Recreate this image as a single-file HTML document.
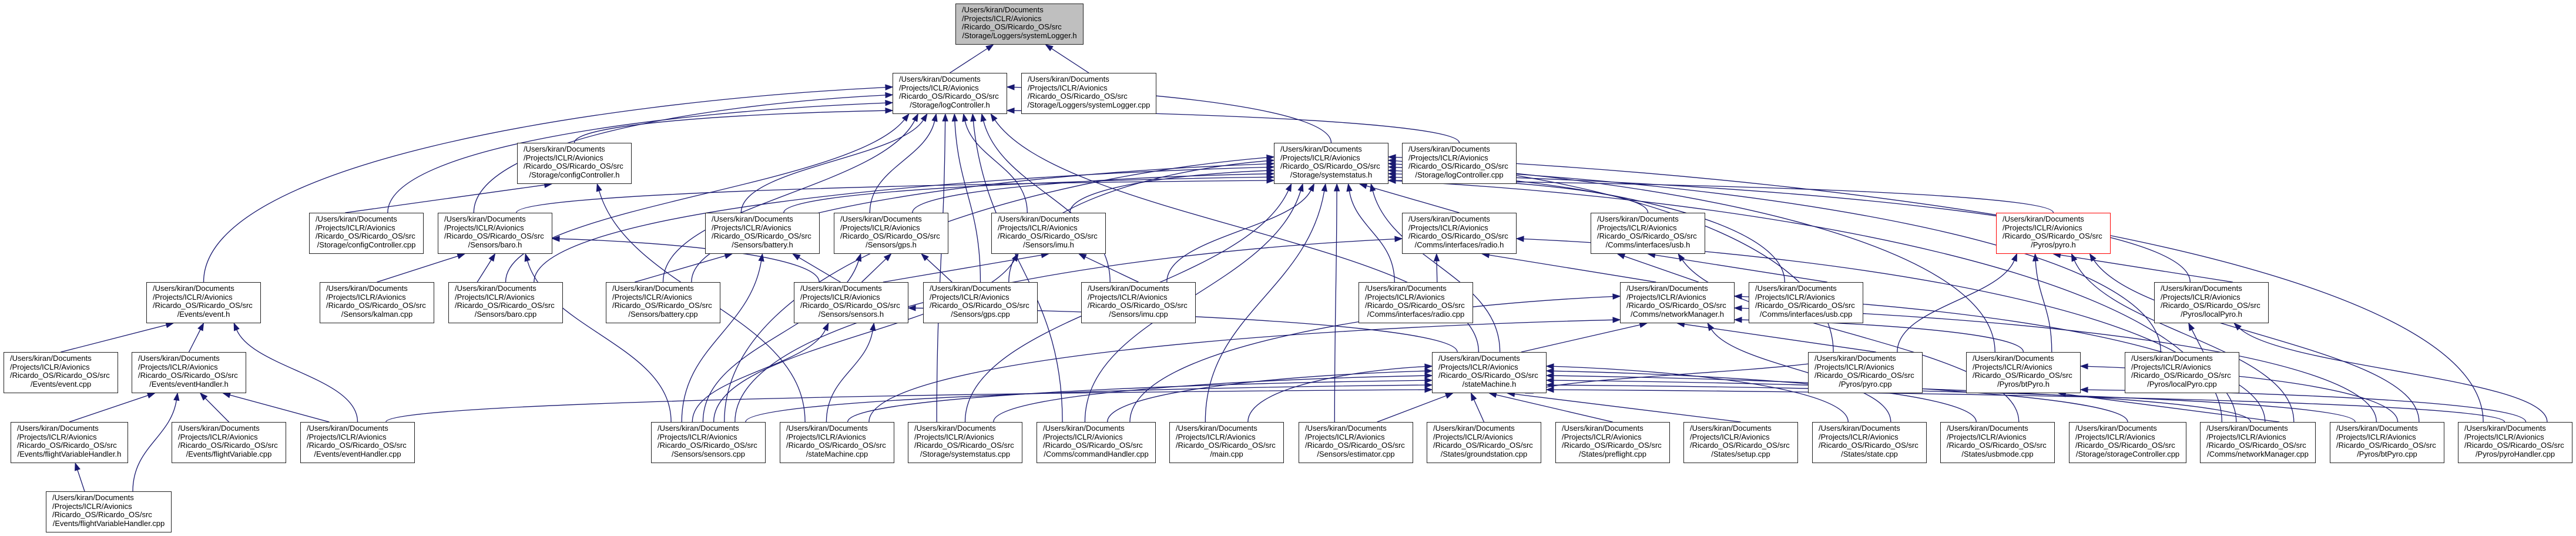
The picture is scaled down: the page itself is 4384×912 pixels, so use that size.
<!DOCTYPE html>
<html><head><meta charset="utf-8">
<style>
html,body{margin:0;padding:0}
body{width:4384px;height:912px;background:#fff;position:relative;overflow:hidden}
svg{position:absolute;left:0;top:0}
.n{position:absolute;width:195px;height:70px;box-sizing:border-box;border:1.3px solid #222;background:#fff;font:13px/14.7px "Liberation Sans",Arial,sans-serif;padding:3px 0 0 10px;white-space:nowrap;color:#000;z-index:2}
.n b{font-weight:normal;display:block;text-align:center;margin-left:-10px}
.r0{top:6px}.r1{top:124px}.r2{top:243px}.r3{top:362px}.r4{top:480px}.r5{top:599px}.r6{top:718px}.r7{top:836px}
.g{background:#bfbfbf}.red{border-color:#f00}
</style></head><body>
<svg id="sv" width="4384" height="912" xmlns="http://www.w3.org/2000/svg"></svg>

<div class="n r0 g" id="sl_h" style="left:1626px;width:218px">/Users/kiran/Documents<br>/Projects/ICLR/Avionics<br>/Ricardo_OS/Ricardo_OS/src<br><b>/Storage/Loggers/systemLogger.h</b></div>
<div class="n r1" id="lc_h" style="left:1519px">/Users/kiran/Documents<br>/Projects/ICLR/Avionics<br>/Ricardo_OS/Ricardo_OS/src<br><b>/Storage/logController.h</b></div>
<div class="n r1" id="sl_cpp" style="left:1738px;width:230px">/Users/kiran/Documents<br>/Projects/ICLR/Avionics<br>/Ricardo_OS/Ricardo_OS/src<br><b>/Storage/Loggers/systemLogger.cpp</b></div>
<div class="n r2" id="cc_h" style="left:880px">/Users/kiran/Documents<br>/Projects/ICLR/Avionics<br>/Ricardo_OS/Ricardo_OS/src<br><b>/Storage/configController.h</b></div>
<div class="n r2" id="ss_h" style="left:2168px">/Users/kiran/Documents<br>/Projects/ICLR/Avionics<br>/Ricardo_OS/Ricardo_OS/src<br><b>/Storage/systemstatus.h</b></div>
<div class="n r2" id="lc_cpp" style="left:2386px">/Users/kiran/Documents<br>/Projects/ICLR/Avionics<br>/Ricardo_OS/Ricardo_OS/src<br><b>/Storage/logController.cpp</b></div>
<div class="n r3" id="cc_cpp" style="left:526px">/Users/kiran/Documents<br>/Projects/ICLR/Avionics<br>/Ricardo_OS/Ricardo_OS/src<br><b>/Storage/configController.cpp</b></div>
<div class="n r3" id="baro_h" style="left:745px">/Users/kiran/Documents<br>/Projects/ICLR/Avionics<br>/Ricardo_OS/Ricardo_OS/src<br><b>/Sensors/baro.h</b></div>
<div class="n r3" id="bat_h" style="left:1200px">/Users/kiran/Documents<br>/Projects/ICLR/Avionics<br>/Ricardo_OS/Ricardo_OS/src<br><b>/Sensors/battery.h</b></div>
<div class="n r3" id="gps_h" style="left:1419px">/Users/kiran/Documents<br>/Projects/ICLR/Avionics<br>/Ricardo_OS/Ricardo_OS/src<br><b>/Sensors/gps.h</b></div>
<div class="n r3" id="imu_h" style="left:1687px">/Users/kiran/Documents<br>/Projects/ICLR/Avionics<br>/Ricardo_OS/Ricardo_OS/src<br><b>/Sensors/imu.h</b></div>
<div class="n r3" id="radio_h" style="left:2386px">/Users/kiran/Documents<br>/Projects/ICLR/Avionics<br>/Ricardo_OS/Ricardo_OS/src<br><b>/Comms/interfaces/radio.h</b></div>
<div class="n r3" id="usb_h" style="left:2707px">/Users/kiran/Documents<br>/Projects/ICLR/Avionics<br>/Ricardo_OS/Ricardo_OS/src<br><b>/Comms/interfaces/usb.h</b></div>
<div class="n r3 red" id="pyro_h" style="left:3397px">/Users/kiran/Documents<br>/Projects/ICLR/Avionics<br>/Ricardo_OS/Ricardo_OS/src<br><b>/Pyros/pyro.h</b></div>
<div class="n r4" id="event_h" style="left:249px">/Users/kiran/Documents<br>/Projects/ICLR/Avionics<br>/Ricardo_OS/Ricardo_OS/src<br><b>/Events/event.h</b></div>
<div class="n r4" id="kalman" style="left:544px">/Users/kiran/Documents<br>/Projects/ICLR/Avionics<br>/Ricardo_OS/Ricardo_OS/src<br><b>/Sensors/kalman.cpp</b></div>
<div class="n r4" id="baro_cpp" style="left:763px">/Users/kiran/Documents<br>/Projects/ICLR/Avionics<br>/Ricardo_OS/Ricardo_OS/src<br><b>/Sensors/baro.cpp</b></div>
<div class="n r4" id="bat_cpp" style="left:1031px">/Users/kiran/Documents<br>/Projects/ICLR/Avionics<br>/Ricardo_OS/Ricardo_OS/src<br><b>/Sensors/battery.cpp</b></div>
<div class="n r4" id="sens_h" style="left:1351px">/Users/kiran/Documents<br>/Projects/ICLR/Avionics<br>/Ricardo_OS/Ricardo_OS/src<br><b>/Sensors/sensors.h</b></div>
<div class="n r4" id="gps_cpp" style="left:1571px">/Users/kiran/Documents<br>/Projects/ICLR/Avionics<br>/Ricardo_OS/Ricardo_OS/src<br><b>/Sensors/gps.cpp</b></div>
<div class="n r4" id="imu_cpp" style="left:1840px">/Users/kiran/Documents<br>/Projects/ICLR/Avionics<br>/Ricardo_OS/Ricardo_OS/src<br><b>/Sensors/imu.cpp</b></div>
<div class="n r4" id="radio_cpp" style="left:2312px">/Users/kiran/Documents<br>/Projects/ICLR/Avionics<br>/Ricardo_OS/Ricardo_OS/src<br><b>/Comms/interfaces/radio.cpp</b></div>
<div class="n r4" id="nm_h" style="left:2757px">/Users/kiran/Documents<br>/Projects/ICLR/Avionics<br>/Ricardo_OS/Ricardo_OS/src<br><b>/Comms/networkManager.h</b></div>
<div class="n r4" id="usb_cpp" style="left:2976px">/Users/kiran/Documents<br>/Projects/ICLR/Avionics<br>/Ricardo_OS/Ricardo_OS/src<br><b>/Comms/interfaces/usb.cpp</b></div>
<div class="n r4" id="lp_h" style="left:3666px">/Users/kiran/Documents<br>/Projects/ICLR/Avionics<br>/Ricardo_OS/Ricardo_OS/src<br><b>/Pyros/localPyro.h</b></div>
<div class="n r5" id="event_cpp" style="left:6px">/Users/kiran/Documents<br>/Projects/ICLR/Avionics<br>/Ricardo_OS/Ricardo_OS/src<br><b>/Events/event.cpp</b></div>
<div class="n r5" id="eh_h" style="left:224px">/Users/kiran/Documents<br>/Projects/ICLR/Avionics<br>/Ricardo_OS/Ricardo_OS/src<br><b>/Events/eventHandler.h</b></div>
<div class="n r5" id="sm_h" style="left:2437px">/Users/kiran/Documents<br>/Projects/ICLR/Avionics<br>/Ricardo_OS/Ricardo_OS/src<br><b>/stateMachine.h</b></div>
<div class="n r5" id="pyro_cpp" style="left:3077px">/Users/kiran/Documents<br>/Projects/ICLR/Avionics<br>/Ricardo_OS/Ricardo_OS/src<br><b>/Pyros/pyro.cpp</b></div>
<div class="n r5" id="bt_h" style="left:3346px">/Users/kiran/Documents<br>/Projects/ICLR/Avionics<br>/Ricardo_OS/Ricardo_OS/src<br><b>/Pyros/btPyro.h</b></div>
<div class="n r5" id="lp_cpp" style="left:3616px">/Users/kiran/Documents<br>/Projects/ICLR/Avionics<br>/Ricardo_OS/Ricardo_OS/src<br><b>/Pyros/localPyro.cpp</b></div>
<div class="n r6" id="fvh_h" style="left:18px;width:200px">/Users/kiran/Documents<br>/Projects/ICLR/Avionics<br>/Ricardo_OS/Ricardo_OS/src<br><b>/Events/flightVariableHandler.h</b></div>
<div class="n r6" id="fv_cpp" style="left:292px">/Users/kiran/Documents<br>/Projects/ICLR/Avionics<br>/Ricardo_OS/Ricardo_OS/src<br><b>/Events/flightVariable.cpp</b></div>
<div class="n r6" id="eh_cpp" style="left:511px">/Users/kiran/Documents<br>/Projects/ICLR/Avionics<br>/Ricardo_OS/Ricardo_OS/src<br><b>/Events/eventHandler.cpp</b></div>
<div class="n r6" id="sens_cpp" style="left:1108px">/Users/kiran/Documents<br>/Projects/ICLR/Avionics<br>/Ricardo_OS/Ricardo_OS/src<br><b>/Sensors/sensors.cpp</b></div>
<div class="n r6" id="sm_cpp" style="left:1327px">/Users/kiran/Documents<br>/Projects/ICLR/Avionics<br>/Ricardo_OS/Ricardo_OS/src<br><b>/stateMachine.cpp</b></div>
<div class="n r6" id="ss_cpp" style="left:1545px">/Users/kiran/Documents<br>/Projects/ICLR/Avionics<br>/Ricardo_OS/Ricardo_OS/src<br><b>/Storage/systemstatus.cpp</b></div>
<div class="n r6" id="ch_cpp" style="left:1764px;width:203px">/Users/kiran/Documents<br>/Projects/ICLR/Avionics<br>/Ricardo_OS/Ricardo_OS/src<br><b>/Comms/commandHandler.cpp</b></div>
<div class="n r6" id="main" style="left:1990px">/Users/kiran/Documents<br>/Projects/ICLR/Avionics<br>/Ricardo_OS/Ricardo_OS/src<br><b>/main.cpp</b></div>
<div class="n r6" id="est" style="left:2210px">/Users/kiran/Documents<br>/Projects/ICLR/Avionics<br>/Ricardo_OS/Ricardo_OS/src<br><b>/Sensors/estimator.cpp</b></div>
<div class="n r6" id="gs" style="left:2428px">/Users/kiran/Documents<br>/Projects/ICLR/Avionics<br>/Ricardo_OS/Ricardo_OS/src<br><b>/States/groundstation.cpp</b></div>
<div class="n r6" id="pf" style="left:2647px">/Users/kiran/Documents<br>/Projects/ICLR/Avionics<br>/Ricardo_OS/Ricardo_OS/src<br><b>/States/preflight.cpp</b></div>
<div class="n r6" id="setup" style="left:2865px">/Users/kiran/Documents<br>/Projects/ICLR/Avionics<br>/Ricardo_OS/Ricardo_OS/src<br><b>/States/setup.cpp</b></div>
<div class="n r6" id="state" style="left:3084px">/Users/kiran/Documents<br>/Projects/ICLR/Avionics<br>/Ricardo_OS/Ricardo_OS/src<br><b>/States/state.cpp</b></div>
<div class="n r6" id="usbm" style="left:3302px">/Users/kiran/Documents<br>/Projects/ICLR/Avionics<br>/Ricardo_OS/Ricardo_OS/src<br><b>/States/usbmode.cpp</b></div>
<div class="n r6" id="stc" style="left:3521px;width:200px">/Users/kiran/Documents<br>/Projects/ICLR/Avionics<br>/Ricardo_OS/Ricardo_OS/src<br><b>/Storage/storageController.cpp</b></div>
<div class="n r6" id="nm_cpp" style="left:3744px;width:197px">/Users/kiran/Documents<br>/Projects/ICLR/Avionics<br>/Ricardo_OS/Ricardo_OS/src<br><b>/Comms/networkManager.cpp</b></div>
<div class="n r6" id="bt_cpp" style="left:3965px">/Users/kiran/Documents<br>/Projects/ICLR/Avionics<br>/Ricardo_OS/Ricardo_OS/src<br><b>/Pyros/btPyro.cpp</b></div>
<div class="n r6" id="ph" style="left:4183px">/Users/kiran/Documents<br>/Projects/ICLR/Avionics<br>/Ricardo_OS/Ricardo_OS/src<br><b>/Pyros/pyroHandler.cpp</b></div>
<div class="n r7" id="fvh_cpp" style="left:78px;width:214px">/Users/kiran/Documents<br>/Projects/ICLR/Avionics<br>/Ricardo_OS/Ricardo_OS/src<br><b>/Events/flightVariableHandler.cpp</b></div>

<script>
(function(){
var E="lc_h>sl_h sl_cpp>sl_h "+
"ss_h>lc_h lc_cpp>lc_h cc_h>lc_h cc_cpp>lc_h baro_h>lc_h baro_cpp>lc_h event_h>lc_h bat_h>lc_h bat_cpp>lc_h gps_h>lc_h gps_cpp>lc_h imu_h>lc_h imu_cpp>lc_h sm_h>lc_h ss_cpp>lc_h ch_cpp>lc_h "+
"baro_h>ss_h bat_h>ss_h gps_h>ss_h imu_h>ss_h baro_cpp>ss_h bat_cpp>ss_h gps_cpp>ss_h imu_cpp>ss_h radio_h>ss_h radio_cpp>ss_h usb_h>ss_h usb_cpp>ss_h sm_h>ss_h pyro_h>ss_h pyro_cpp>ss_h lp_h>ss_h lp_cpp>ss_h bt_h>ss_h sens_cpp>ss_h est>ss_h ss_cpp>ss_h main>ss_h ch_cpp>ss_h nm_cpp>ss_h ph>ss_h "+
"cc_cpp>cc_h sm_cpp>cc_h "+
"kalman>baro_h baro_cpp>baro_h sens_h>baro_h sens_cpp>baro_h "+
"bat_cpp>bat_h sens_h>bat_h sens_cpp>bat_h "+
"sens_h>gps_h gps_cpp>gps_h sens_cpp>gps_h "+
"sens_h>imu_h imu_cpp>imu_h sens_cpp>imu_h "+
"sens_cpp>sens_h sm_cpp>sens_h sm_h>sens_h "+
"event_cpp>event_h eh_h>event_h eh_cpp>event_h "+
"fvh_h>eh_h fvh_cpp>eh_h fv_cpp>eh_h eh_cpp>eh_h fvh_cpp>fvh_h "+
"radio_cpp>radio_h nm_h>radio_h sens_cpp>radio_h nm_cpp>radio_h "+
"nm_h>usb_h usb_cpp>usb_h usbm>usb_h "+
"sm_h>nm_h pyro_cpp>nm_h sm_cpp>nm_h ch_cpp>nm_h nm_cpp>nm_h bt_cpp>nm_h state>nm_h bt_h>nm_h "+
"est>sm_h gs>sm_h pf>sm_h setup>sm_h state>sm_h usbm>sm_h stc>sm_h nm_cpp>sm_h bt_cpp>sm_h ph>sm_h main>sm_h ch_cpp>sm_h sm_cpp>sm_h ss_cpp>sm_h sens_cpp>sm_h eh_cpp>sm_h pyro_cpp>sm_h "+
"pyro_cpp>pyro_h bt_h>pyro_h lp_h>pyro_h bt_cpp>pyro_h nm_cpp>pyro_h "+
"lp_cpp>lp_h ph>lp_h bt_cpp>bt_h ph>bt_h nm_cpp>bt_h";
var sv=document.getElementById('sv'),NS='http://www.w3.org/2000/svg',C='#191970';
function B(id){var e=document.getElementById(id);return{x:e.offsetLeft,y:e.offsetTop,w:e.offsetWidth,h:e.offsetHeight,cx:e.offsetLeft+e.offsetWidth/2};}
var edges=E.trim().split(/\s+/).map(function(s){var p=s.split('>');var a=B(p[0]),b=B(p[1]);
 var dx=a.cx-b.cx,rows=Math.round((a.y-b.y)/118.6);
 var mode='b';
 if(Math.abs(dx)>b.w*2.2&&rows>=1&&Math.abs(dx)>rows*260)mode=dx<0?'l':'r';
 return{a:a,b:b,p:p,mode:mode,dx:dx};});
// distribute endpoints
var inG={},outG={};
edges.forEach(function(e){var k=e.p[1]+e.mode;(inG[k]=inG[k]||[]).push(e);(outG[e.p[0]]=outG[e.p[0]]||[]).push(e);});
Object.keys(inG).forEach(function(k){var L=inG[k];
 if(k.slice(-1)=='b'){L.sort(function(u,v){return u.a.cx-v.a.cx});var b=L[0].b,n=L.length;
  L.forEach(function(e,i){e.ex=n==1?b.cx+Math.max(-b.w/2+15,Math.min(b.w/2-15,e.dx*0.15)):b.x+20+(b.w-40)*(i+0.5)/n;e.ey=b.y+b.h;});}
 else{L.sort(function(u,v){return u.a.y-v.a.y||Math.abs(v.dx)-Math.abs(u.dx)});var b=L[0].b,n=L.length;
  L.forEach(function(e,i){e.ex=k.slice(-1)=='l'?b.x:b.x+b.w;e.ey=b.y+b.h-6-(Math.min(n,8)>1?(40*(i%8)/(Math.min(n,8)-1)):20);});}
});
Object.keys(outG).forEach(function(k){var L=outG[k];L.sort(function(u,v){return (u.ex-v.ex)});var a=L[0].a,n=L.length;
 L.forEach(function(e,i){e.sx=n==1?a.cx:a.x+25+(a.w-50)*(i+0.5)/n;e.sy=a.y;});});
var out='';
edges.forEach(function(e){
 var sx=e.sx,sy=e.sy,ex=e.ex,ey=e.ey,c1x,c1y,c2x,c2y,dxv,dyv;
 if(e.mode=='b'){
  var dy=sy-ey;
  if(Math.abs(sy-ey)<60){c1x=sx;c1y=sy;c2x=ex;c2y=ey;}
  else{c1x=sx;c1y=sy-dy*0.45;c2x=ex+(sx-ex)*0.15;c2y=ey+dy*0.45;}
  dxv=ex-c2x;dyv=ey-c2y;if(Math.abs(sy-ey)<60){dxv=ex-sx;dyv=ey-sy;}
 }else{
  var ddx=Math.abs(ex-sx);
  c1x=sx;c1y=sy-(sy-ey)*0.6;c2x=ex+(e.mode=='l'?-1:1)*ddx*0.45;c2y=ey+(sy-ey)*0.08;
  dxv=ex-c2x;dyv=ey-c2y;
 }
 var L=Math.sqrt(dxv*dxv+dyv*dyv)||1,ux=dxv/L,uy=dyv/L,al=12,aw=4.5;
 var bx=ex-ux*al,by=ey-uy*al;
 var q=function(v){return v.toFixed(1)};
 var lc2x=c2x,lc2y=c2y;if(c2x==ex&&c2y==ey){lc2x=bx;lc2y=by;}
 out+='<path d="M'+q(sx)+','+q(sy)+' C'+q(c1x)+','+q(c1y)+' '+q(lc2x)+','+q(lc2y)+' '+q(bx)+','+q(by)+'" fill="none" stroke="'+C+'" stroke-width="1.3"/>';
 out+='<polygon points="'+q(ex)+','+q(ey)+' '+q(bx-uy*aw)+','+q(by+ux*aw)+' '+q(bx+uy*aw)+','+q(by-ux*aw)+'" fill="'+C+'" stroke="'+C+'"/>';
});
sv.innerHTML=out;
})();
</script>
</body></html>
